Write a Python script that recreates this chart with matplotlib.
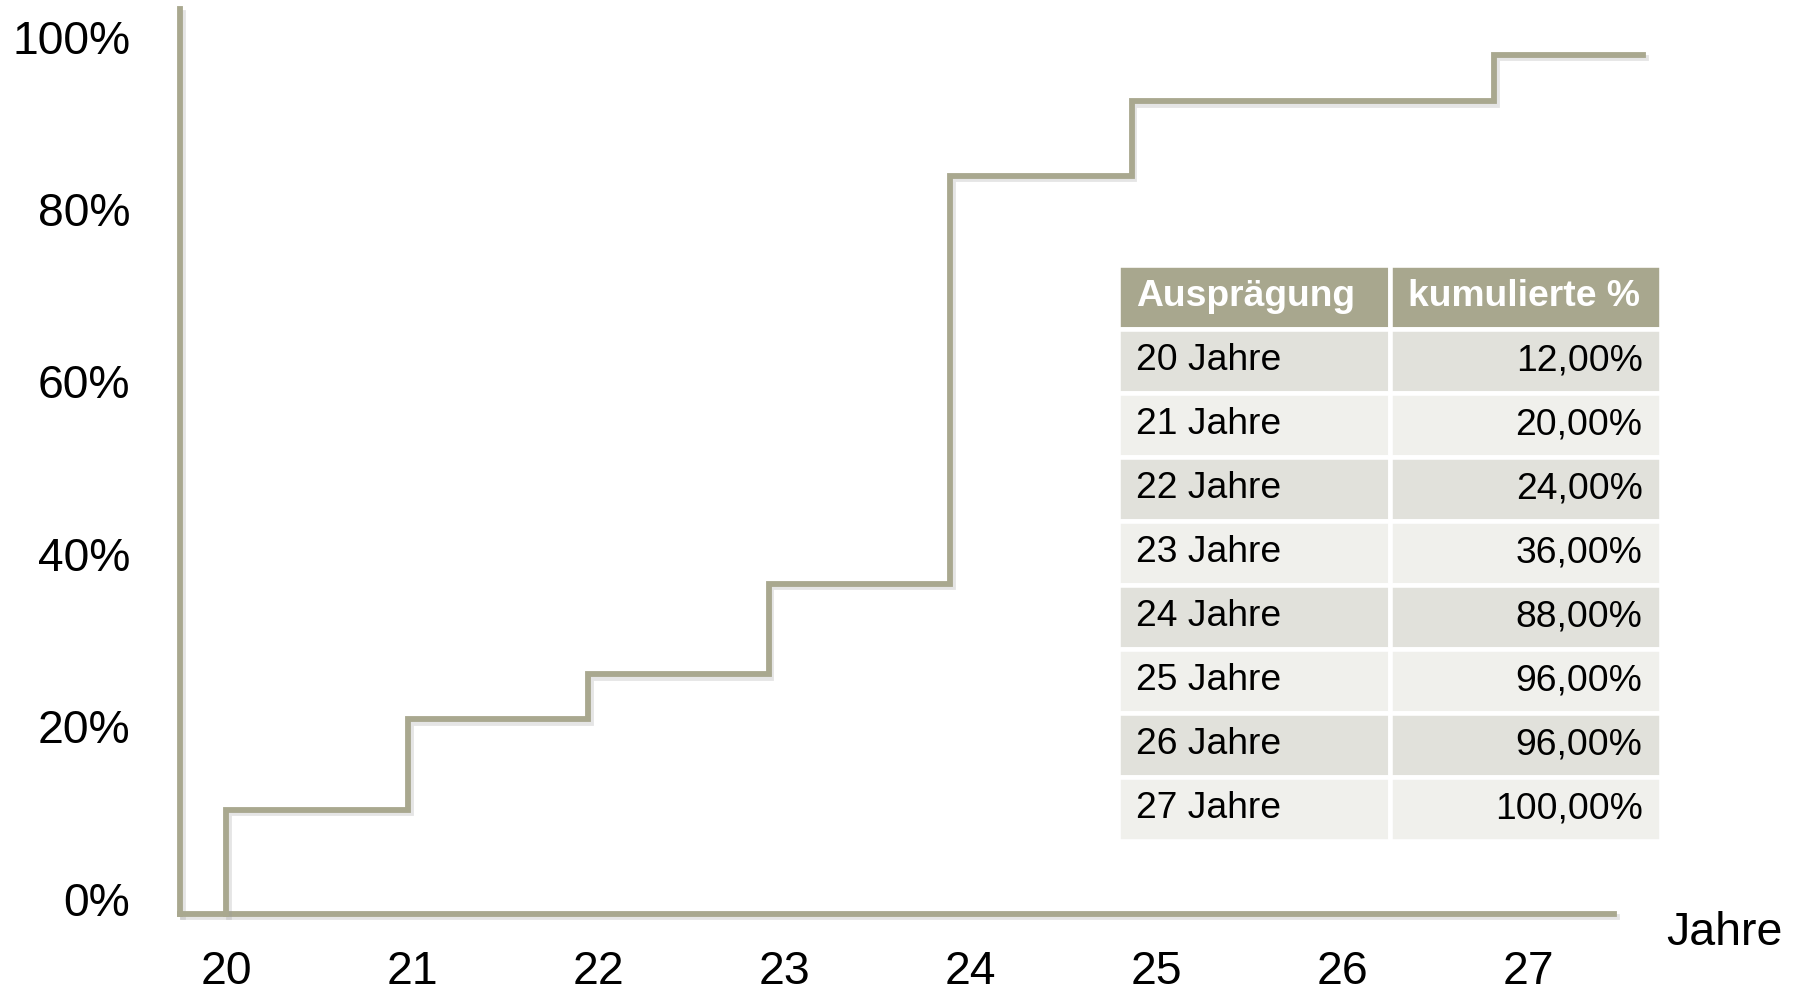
import matplotlib
matplotlib.use('Agg')
import matplotlib.pyplot as plt
import matplotlib.patheffects as pe

# ---- data ----
ages = [20, 21, 22, 23, 24, 25, 26, 27]                                   # tick labels
step_x = [20.0, 20.976, 21.946, 22.916, 23.892, 24.868, 25.84, 26.815]    # step positions as drawn
line_pct = [10.3, 20.8, 26.0, 36.5, 83.9, 92.5, 92.5, 97.9]               # step heights as drawn
line_end = 27.617
table_header = ["Ausprägung", "kumulierte %"]
table_labels = ["20 Jahre", "21 Jahre", "22 Jahre", "23 Jahre",
                "24 Jahre", "25 Jahre", "26 Jahre", "27 Jahre"]
table_values = ["12,00%", "20,00%", "24,00%", "36,00%",
                "88,00%", "96,00%", "96,00%", "100,00%"]
yticks = [0, 20, 40, 60, 80, 100]
ytick_labels = ["0%", "20%", "40%", "60%", "80%", "100%"]
x_label = "Jahre"

plt.rcParams['font.family'] = ['Liberation Sans', 'DejaVu Sans']

W, H = 1804, 992
fig = plt.figure(figsize=(W / 100, H / 100), dpi=100)

line_color = '#A9A88F'
hdr_color = '#A8A78E'
row_dark = '#E1E1DB'
row_light = '#F0F0EC'

ax = fig.add_axes([180.4 / W, (H - 913.5) / H, (1614.3 - 180.4) / W, (913.5 - 9.2) / H])
ax.set_xlim(19.753, 27.463)
ax.set_ylim(-1.74, 103.2)

shadow = [pe.SimpleLineShadow(offset=(2, -2.5), shadow_color='#999999', alpha=0.25), pe.Normal()]

xs = [step_x[0]] + step_x + [line_end]
ys = [ax.get_ylim()[0]] + line_pct + [line_pct[-1]]
ax.step(xs, ys, where='post', color=line_color, lw=4.2, clip_on=False,
        solid_joinstyle='miter', path_effects=shadow, zorder=3)

for s in ['top', 'right']:
    ax.spines[s].set_visible(False)
for s in ['left', 'bottom']:
    ax.spines[s].set_color(line_color)
    ax.spines[s].set_linewidth(4.2)
    ax.spines[s].set_path_effects(shadow)

ax.set_yticks(yticks)
ax.set_yticklabels(ytick_labels)
ax.set_xticks(ages)
ax.set_xticklabels([str(a) for a in ages])
ax.tick_params(axis='both', length=0, labelsize=33.3, colors='black')
ax.tick_params(axis='y', pad=36)
ax.tick_params(axis='x', pad=26.5)

fig.text(1666 / W, 1 - 933 / H, x_label, fontsize=33.5, ha='left', va='center')

# ---- table ----
tax = fig.add_axes([1118 / W, (H - 841) / H, (1661 - 1118) / W, (841 - 265) / H])
tax.axis('off')
cell_text = [[l, v] for l, v in zip(table_labels, table_values)]
tbl = tax.table(cellText=cell_text, colLabels=table_header, bbox=[0, 0, 1, 1],
                cellLoc='left', colLoc='left')
tbl.auto_set_font_size(False)
tbl.set_fontsize(26.8)
for (r, c), cell in tbl.get_celld().items():
    cell.set_edgecolor('white')
    cell.set_linewidth(3.3)
    cell.PAD = 0.068
    if r == 0:
        cell.set_facecolor(hdr_color)
        cell.get_text().set_color('white')
        cell.get_text().set_fontweight('bold')
    else:
        cell.set_facecolor(row_dark if r % 2 == 1 else row_light)
        cell.get_text().set_color('black')
        if c == 1:
            cell._loc = 'right'
            cell.get_text().set_ha('right')

fig.savefig('out.png', dpi=100, facecolor='white')
